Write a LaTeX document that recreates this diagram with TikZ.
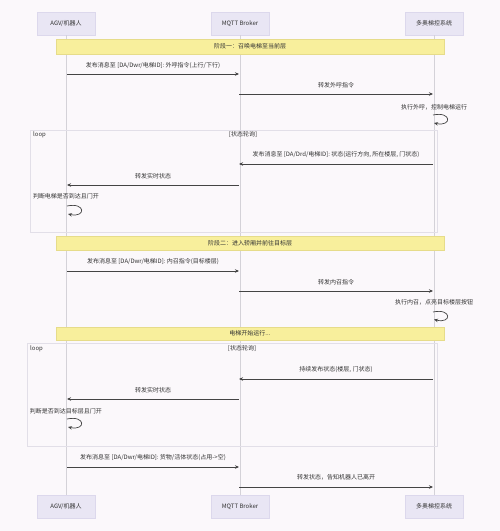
\documentclass[tikz,border=0pt]{standalone}
\usepackage{fontspec}
\setmainfont{Noto Sans CJK SC}
\usetikzlibrary{arrows.meta}
\definecolor{bgc}{HTML}{FBF8FB}
\definecolor{actorfill}{HTML}{E9E6F4}
\definecolor{actorline}{HTML}{DCD8EC}
\definecolor{notefill}{HTML}{F8EF9C}
\definecolor{noteline}{HTML}{E6DC8A}
\definecolor{lifec}{HTML}{D4D2D8}
\definecolor{framec}{HTML}{E2DFE8}
\definecolor{txt}{HTML}{333333}
\definecolor{arr}{HTML}{444444}
\tikzset{
  actor/.style={draw=actorline, fill=actorfill, line width=0.5pt, minimum width=58, minimum height=23, inner sep=0pt, font=\fontsize{6}{7}\selectfont, text=txt},
  life/.style={draw=lifec, line width=0.6pt},
  band/.style={draw=noteline, fill=notefill, line width=0.5pt, minimum width=388, inner sep=0pt, font=\fontsize{6}{7}\selectfont, text=txt},
  msg/.style={draw=arr, line width=0.7pt, -{Stealth[length=4pt,width=3.5pt]}},
  lbl/.style={font=\fontsize{6}{7}\selectfont, text=txt, inner sep=0pt},
  framebox/.style={draw=framec, line width=0.6pt},
  selfloop/.style={draw=arr, line width=0.7pt, -{Stealth[length=4pt,width=3.5pt]}}
}
\begin{document}
\begin{tikzpicture}[x=1pt,y=-1pt]
\fill[bgc] (0,0) rectangle (500,531);
\useasboundingbox (0,0) rectangle (500,531);

% participants
\node[actor] (a1) at (66,23.5) {AGV/机器人};
\node[actor] (b1) at (240,23.5) {MQTT Broker};
\node[actor] (c1) at (434,23.5) {多奥梯控系统};
\node[actor] (a2) at (66,506.5) {AGV/机器人};
\node[actor] (b2) at (240,506.5) {MQTT Broker};
\node[actor] (c2) at (434,506.5) {多奥梯控系统};
\draw[life] (a1.south) -- (a2.north);
\draw[life] (b1.south) -- (b2.north);
\draw[life] (c1.south) -- (c2.north);

% loop frames
\draw[framebox] (30,130) rectangle (437,232);
\node[lbl, anchor=west] (l1) at (33,134.5) {loop};
\node[lbl] (g1) at (243,134.5) {[状态轮询]};
\draw[framebox] (27,343) rectangle (437,446);
\node[lbl, anchor=west] (l2) at (30,348.5) {loop};
\node[lbl] (g2) at (242,348.5) {[状态轮询]};

% phase 1
\node[band, minimum height=15] (p1) at (250,46.5) {阶段一：召唤电梯至当前层};
\coordinate (m1a) at (67,74); \coordinate (m1b) at (239,74);
\draw[msg] (m1a) -- (m1b);
\node[lbl] (t1) at (153,66) {发布消息至 [DA/Dwr/电梯ID]: 外呼指令(上行/下行)};
\coordinate (m2a) at (239,94); \coordinate (m2b) at (433,94);
\draw[msg] (m2a) -- (m2b);
\node[lbl] (t2) at (336,85) {转发外呼指令};
\node[lbl] (t3) at (434,107) {执行外呼，控制电梯运行};
\coordinate (s1a) at (433,115); \coordinate (s1b) at (434,123);
\draw[selfloop] (s1a) .. controls (452,111) and (452,127) .. (s1b);

\coordinate (m3a) at (433,164); \coordinate (m3b) at (239,164);
\draw[msg] (m3a) -- (m3b);
\node[lbl] (t4) at (336,155) {发布消息至 [DA/Drd/电梯ID]: 状态(运行方向, 所在楼层, 门状态)};
\coordinate (m4a) at (239,185); \coordinate (m4b) at (67,185);
\draw[msg] (m4a) -- (m4b);
\node[lbl] (t5) at (153,176) {转发实时状态};
\node[lbl] (t6) at (66,196) {判断电梯是否到达且门开};
\coordinate (s2a) at (67,206); \coordinate (s2b) at (68,214);
\draw[selfloop] (s2a) .. controls (86,202) and (86,218) .. (s2b);

% phase 2
\node[band, minimum height=14] (p2) at (250,243) {阶段二：进入轿厢并前往目标层};
\coordinate (m5a) at (67,271); \coordinate (m5b) at (239,271);
\draw[msg] (m5a) -- (m5b);
\node[lbl] (t7) at (153,261.5) {发布消息至 [DA/Dwr/电梯ID]: 内召指令(目标楼层)};
\coordinate (m6a) at (239,291); \coordinate (m6b) at (433,291);
\draw[msg] (m6a) -- (m6b);
\node[lbl] (t8) at (336,282) {转发内召指令};
\node[lbl] (t9) at (434,302) {执行内召，点亮目标楼层按钮};
\coordinate (s3a) at (433,312); \coordinate (s3b) at (434,319.5);
\draw[selfloop] (s3a) .. controls (452,308) and (452,324) .. (s3b);
\node[band, minimum height=13] (p3) at (250,333.5) {电梯开始运行...};

\coordinate (m7a) at (433,379); \coordinate (m7b) at (239,379);
\draw[msg] (m7a) -- (m7b);
\node[lbl] (t10) at (336,370) {持续发布状态(楼层, 门状态)};
\coordinate (m8a) at (239,399); \coordinate (m8b) at (67,399);
\draw[msg] (m8a) -- (m8b);
\node[lbl] (t11) at (153,390) {转发实时状态};
\node[lbl] (t12) at (66,411) {判断是否到达目标层且门开};
\coordinate (s4a) at (67,419); \coordinate (s4b) at (68,427);
\draw[selfloop] (s4a) .. controls (86,415) and (86,431) .. (s4b);

% final messages
\coordinate (m9a) at (67,467); \coordinate (m9b) at (239,467);
\draw[msg] (m9a) -- (m9b);
\node[lbl] (t13) at (153,457.5) {发布消息至 [DA/Dwr/电梯ID]: 货物/活体状态(占用->空)};
\coordinate (m10a) at (239,487); \coordinate (m10b) at (433,487);
\draw[msg] (m10a) -- (m10b);
\node[lbl] (t14) at (336,477.5) {转发状态，告知机器人已离开};
\end{tikzpicture}
\end{document}
